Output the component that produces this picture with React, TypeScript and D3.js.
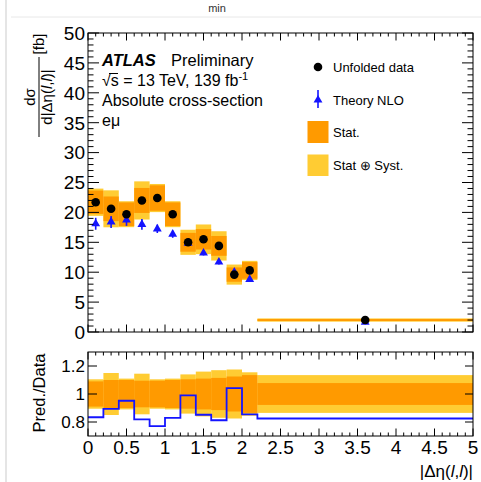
import React from "react";
import * as d3 from "d3";

const binEdges = [0, 0.2, 0.4, 0.6, 0.8, 1.0, 1.2, 1.4, 1.6, 1.8, 2.0, 2.2, 5.0];
const dataValues = [21.7, 20.6, 19.7, 22.0, 22.4, 19.7, 15.0, 15.5, 14.4, 9.6, 10.3, 2.0];
const theoryValues = [18.1, 18.4, 18.75, 18.0, 17.25, 16.35, 14.85, 13.2, 11.7, 10.0, 8.8, 1.65];
const theoryErrors = [1.0, 1.0, 1.0, 0.9, 0.7, 0.6, 0.45, 0.4, 0.4, 0.3, 0.3, 0.05];
const statRel = [0.09, 0.10, 0.10, 0.095, 0.095, 0.10, 0.105, 0.11, 0.115, 0.125, 0.135, 0.078];
const totalRel = [0.105, 0.15, 0.11, 0.145, 0.105, 0.11, 0.14, 0.16, 0.17, 0.175, 0.155, 0.135];

const mainYTicks = [0, 5, 10, 15, 20, 25, 30, 35, 40, 45, 50];
const ratioYTicks = [0.8, 1, 1.2];
const xTicks = [0, 0.5, 1, 1.5, 2, 2.5, 3, 3.5, 4, 4.5, 5];

const ORANGE = "#ff9a00";
const YELLOW = "#ffcc33";
const BLUE = "#1414ff";
const FONT = "'Liberation Sans', Arial, Helvetica, sans-serif";

const L = 88, R = 473;
const MT = 33, MB = 332;
const RT = 352, RB = 436;

export default function App() {
  const x = d3.scaleLinear().domain([0, 5]).range([L, R]);
  const y = d3.scaleLinear().domain([0, 50]).range([MB, MT]);
  const yr = d3.scaleLinear().domain([0.7, 1.3]).range([RB, RT]);

  const bins = dataValues.map((v, i) => ({
    x0: binEdges[i],
    x1: binEdges[i + 1],
    xc: (binEdges[i] + binEdges[i + 1]) / 2,
    v,
    th: theoryValues[i],
    te: theoryErrors[i],
    s: statRel[i],
    t: totalRel[i],
  }));

  const tri = d3.symbol().type(d3.symbolTriangle).size(34)() as string;

  const xMinor = d3.range(0, 5.0001, 0.1);
  const yMinor = d3.range(0, 50.0001, 1);

  const ratioLine = d3
    .line<[number, number]>()
    .x((d) => x(d[0]))
    .y((d) => yr(d[1]))
    .curve(d3.curveStepAfter);
  const ratioPts: [number, number][] = bins.map((b) => [b.x0, b.th / b.v]);
  ratioPts.push([5, bins[bins.length - 1].th / bins[bins.length - 1].v]);

  const xLabel = (v: number) => (v === Math.round(v) ? String(v) : String(v));

  return (
    <svg
      width={481}
      height={482}
      style={{ position: "absolute", left: 0, top: 0, background: "#fff" }}
      fontFamily={FONT}
    >
      <defs>
        <clipPath id="mainClip">
          <rect x={L} y={MT} width={R - L} height={MB - MT} />
        </clipPath>
        <clipPath id="ratioClip">
          <rect x={L} y={RT} width={R - L} height={RB - RT} />
        </clipPath>
      </defs>
      {/* frame chrome */}
      <line x1={6} y1={0} x2={6} y2={482} stroke="#dcdcdc" strokeWidth={1.5} />
      <line x1={11} y1={17} x2={481} y2={17} stroke="#e8e8e8" strokeWidth={1} />
      <text x={217} y={12} fontSize={11} textAnchor="middle" fill="#333">min</text>

      {/* main panel bands */}
      <g clipPath="url(#mainClip)">
        {bins.map((b, i) => (
          <rect key={"ty" + i} x={x(b.x0)} width={x(b.x1) - x(b.x0)}
            y={y(b.v * (1 + b.t))} height={y(b.v * (1 - b.t)) - y(b.v * (1 + b.t))} fill={YELLOW} />
        ))}
        {bins.map((b, i) => (
          <rect key={"so" + i} x={x(b.x0)} width={x(b.x1) - x(b.x0)}
            y={y(b.v * (1 + b.s))} height={y(b.v * (1 - b.s)) - y(b.v * (1 + b.s))} fill={ORANGE} />
        ))}
        {bins.map((b, i) => (
          <g key={"th" + i}>
            <line x1={x(b.xc)} x2={x(b.xc)} y1={y(b.th + b.te)} y2={y(b.th - b.te)} stroke={BLUE} strokeWidth={1.6} />
            <path d={tri} transform={`translate(${x(b.xc)},${y(b.th)})`} fill={BLUE} />
          </g>
        ))}
        {bins.map((b, i) => (
          <circle key={"d" + i} cx={x(b.xc)} cy={y(b.v)} r={4.3} fill="#000" />
        ))}
      </g>

      {/* main frame & ticks */}
      <rect x={L} y={MT} width={R - L} height={MB - MT} fill="none" stroke="#000" strokeWidth={1} />
      {yMinor.map((v) => {
        const major = v % 5 === 0;
        const len = major ? 11 : 5.5;
        return (
          <g key={"ym" + v}>
            <line x1={L} x2={L + len} y1={y(v)} y2={y(v)} stroke="#000" />
            <line x1={R} x2={R - len} y1={y(v)} y2={y(v)} stroke="#000" />
          </g>
        );
      })}
      {xMinor.map((v, i) => {
        const major = i % 5 === 0;
        const len = major ? 7.5 : 3.5;
        return (
          <g key={"xm" + i}>
            <line x1={x(v)} x2={x(v)} y1={MB} y2={MB - len} stroke="#000" />
            <line x1={x(v)} x2={x(v)} y1={MT} y2={MT + len} stroke="#000" />
            <line x1={x(v)} x2={x(v)} y1={RB} y2={RB - len} stroke="#000" />
            <line x1={x(v)} x2={x(v)} y1={RT} y2={RT + len} stroke="#000" />
          </g>
        );
      })}
      {mainYTicks.map((v) => (
        <text key={"yl" + v} x={85} y={y(v) + 6.8} fontSize={19} textAnchor="end">{v}</text>
      ))}

      {/* main y title */}
      <g transform="rotate(-90)">
        <text x={-97} y={35} fontSize={15} textAnchor="middle">dσ</text>
        <text x={-97} y={52} fontSize={15} textAnchor="middle">
          d|Δη(<tspan fontStyle="italic">l</tspan>,<tspan fontStyle="italic">l</tspan>)|
        </text>
        <text x={-44} y={44} fontSize={15} textAnchor="middle">[fb]</text>
      </g>
      <line x1={39} x2={39} y1={57} y2={137} stroke="#000" strokeWidth={1} />

      {/* ATLAS label */}
      <text x={102} y={66} fontSize={16.5} fontWeight="bold" fontStyle="italic">ATLAS</text>
      <text x={171} y={66} fontSize={16.5}>Preliminary</text>
      <text x={102} y={86} fontSize={16}>
        √s = 13 TeV, 139 fb<tspan dy={-6} fontSize={11}>-1</tspan>
      </text>
      <line x1={109} x2={118} y1={73.5} y2={73.5} stroke="#000" strokeWidth={1} />
      <text x={102} y={106} fontSize={16}>Absolute cross-section</text>
      <text x={102} y={126} fontSize={16}>eμ</text>

      {/* legend */}
      <circle cx={318} cy={67} r={4.3} fill="#000" />
      <text x={333} y={72} fontSize={13}>Unfolded data</text>
      <line x1={318} x2={318} y1={90} y2={108} stroke={BLUE} strokeWidth={1.6} />
      <path d={tri} transform="translate(318,100)" fill={BLUE} />
      <text x={333} y={105} fontSize={13}>Theory NLO</text>
      <rect x={307.5} y={121} width={21} height={22} fill={ORANGE} />
      <text x={333} y={137} fontSize={13}>Stat.</text>
      <rect x={307.5} y={154.5} width={21} height={21.5} fill={YELLOW} />
      <text x={333} y={170} fontSize={13}>Stat ⊕ Syst.</text>

      {/* ratio panel */}
      <g clipPath="url(#ratioClip)">
        {bins.map((b, i) => (
          <rect key={"rty" + i} x={x(b.x0)} width={x(b.x1) - x(b.x0)}
            y={yr(1 + b.t)} height={yr(1 - b.t) - yr(1 + b.t)} fill={YELLOW} />
        ))}
        {bins.map((b, i) => (
          <rect key={"rso" + i} x={x(b.x0)} width={x(b.x1) - x(b.x0)}
            y={yr(1 + b.s)} height={yr(1 - b.s) - yr(1 + b.s)} fill={ORANGE} />
        ))}
        <path d={ratioLine(ratioPts) as string} fill="none" stroke={BLUE} strokeWidth={1.8} />
      </g>
      <rect x={L} y={RT} width={R - L} height={RB - RT} fill="none" stroke="#000" strokeWidth={1} />
      {ratioYTicks.map((v) => (
        <g key={"ry" + v}>
          <line x1={L} x2={L + 9} y1={yr(v)} y2={yr(v)} stroke="#000" />
          <line x1={R} x2={R - 8} y1={yr(v)} y2={yr(v)} stroke="#000" />
          <text x={85} y={yr(v) + 6} fontSize={17} textAnchor="end">{v === 1 ? "1" : String(v)}</text>
        </g>
      ))}
      <g transform="rotate(-90)">
        <text x={-393} y={45} fontSize={16.5} textAnchor="middle">Pred./Data</text>
      </g>
      {xTicks.map((v) => (
        <text key={"xl" + v} x={x(v)} y={454} fontSize={19} textAnchor="middle">{xLabel(v)}</text>
      ))}
      <text x={473} y={477} fontSize={17} textAnchor="end">
        |Δη(<tspan fontStyle="italic">l</tspan>,<tspan fontStyle="italic">l</tspan>)|
      </text>
    </svg>
  );
}
